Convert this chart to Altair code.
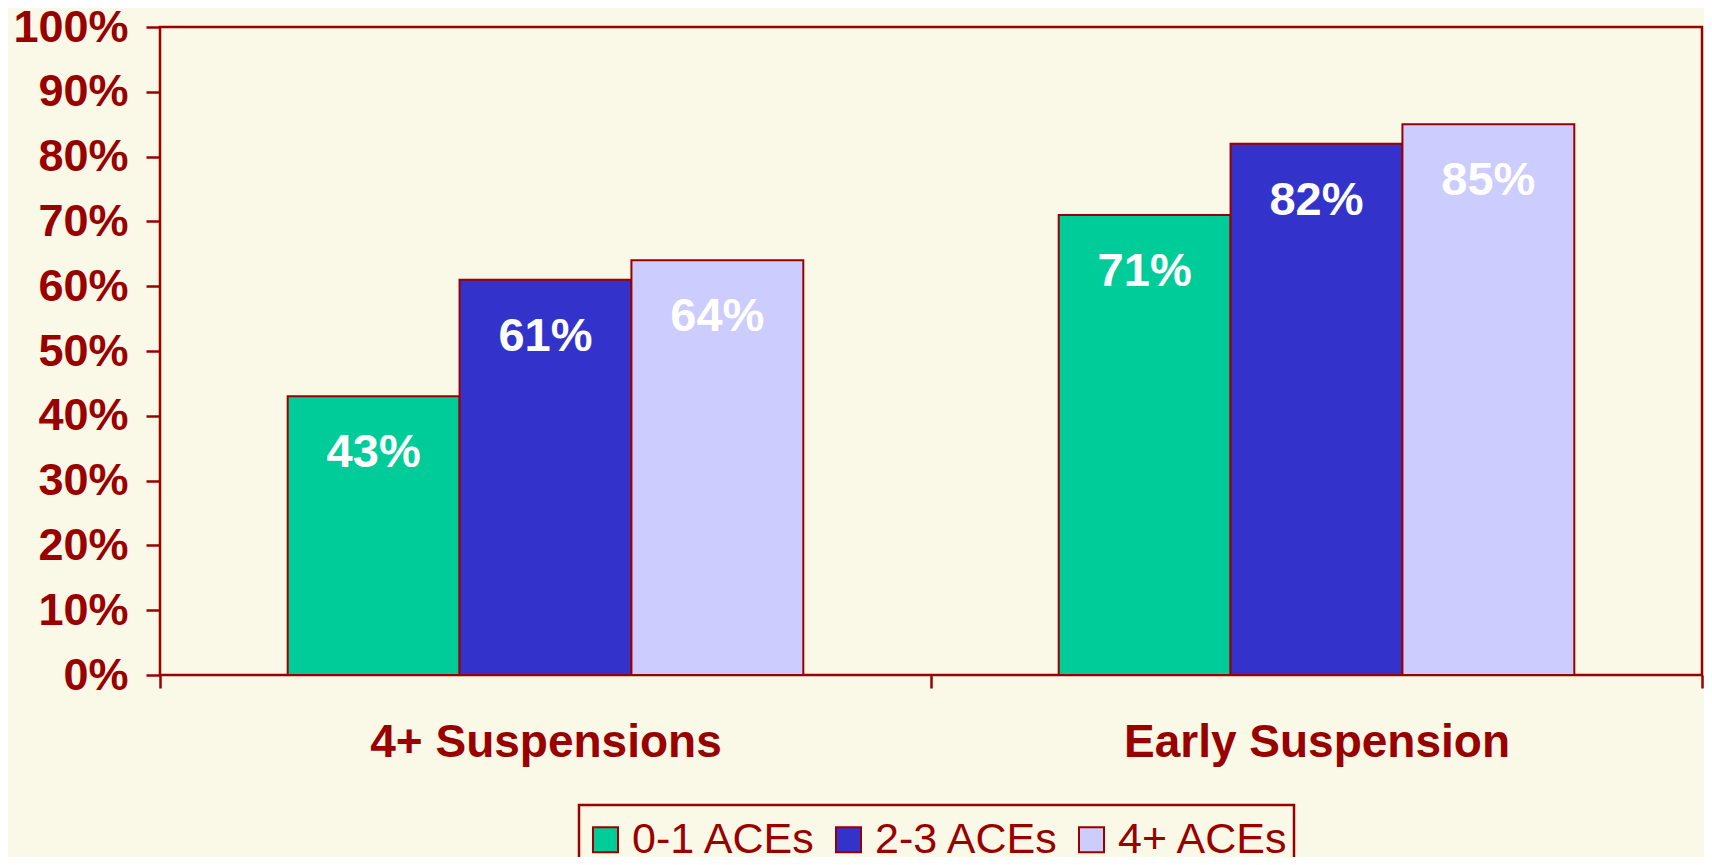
import altair as alt
import pandas as pd

categories = ["4+ Suspensions", "Early Suspension"]
series = ["0-1 ACEs", "2-3 ACEs", "4+ ACEs"]
values_4plus = [43, 61, 64]
values_early = [71, 82, 85]
colors = ["#00CC99", "#3333CC", "#CCCCFF"]
y_ticks = [0, 0.1, 0.2, 0.3, 0.4, 0.5, 0.6, 0.7, 0.8, 0.9, 1.0]

rows = []
for cat, vals in zip(categories, [values_4plus, values_early]):
    for s, v in zip(series, vals):
        rows.append({"category": cat, "series": s, "value": v / 100})
df = pd.DataFrame(rows)

DARK = "#990000"
BG = "#FAF8E6"
W, H = 1542, 648
FONT = "Liberation Sans"

x = alt.X(
    "category:N", sort=categories, title=None,
    scale=alt.Scale(paddingInner=0, paddingOuter=0),
    axis=alt.Axis(
        tickBand="extent", labelAngle=0, domain=False, ticks=True,
        tickSize=13, tickWidth=2.5, tickColor=DARK,
        labelFontSize=46, labelFont=FONT, labelFontWeight="bold",
        labelColor=DARK, labelPadding=32, labelLimit=0,
    ),
)
y = alt.Y(
    "value:Q", title=None,
    scale=alt.Scale(domain=[0, 1], nice=False),
    axis=alt.Axis(
        format=".0%", values=y_ticks, tickSize=14, tickWidth=2.5, tickColor=DARK,
        labelPadding=18, domain=False, grid=False,
        labelFontSize=45, labelFont=FONT, labelFontWeight="bold", labelColor=DARK,
    ),
)
xo = alt.XOffset("series:N", sort=series,
                 scale=alt.Scale(paddingInner=0, paddingOuter=0.743))
color = alt.Color(
    "series:N", sort=series,
    scale=alt.Scale(domain=series, range=colors),
    legend=alt.Legend(
        title=" ", titleFontSize=1, titlePadding=7,
        orient="none", legendX=419, legendY=778, direction="horizontal",
        symbolType="square", symbolSize=625,
        symbolStrokeColor=DARK, symbolStrokeWidth=2,
        labelFont=FONT, labelFontSize=43, labelColor=DARK, labelLimit=0,
        labelOffset=5, columnPadding=10, padding=5,
        strokeColor=DARK, fillColor=BG,
    ),
)

base = alt.Chart(df)
bars = base.mark_bar(stroke=DARK, strokeWidth=2).encode(x=x, xOffset=xo, y=y, color=color)
labels = base.mark_text(
    color="white", font=FONT, fontWeight="bold", fontSize=47,
    baseline="middle", dy=57,
).encode(x=x, xOffset=xo, y=y, text=alt.Text("value:Q", format=".0%"))

chart = alt.layer(bars, labels).properties(
    width=W, height=H,
    padding={"left": 152, "top": 19, "right": 2, "bottom": 182},
    autosize=alt.AutoSizeParams(type="none"),
    background=BG,
).configure_view(stroke=DARK, strokeWidth=2.5).configure_legend(strokeWidth=2.5)

chart.save("out.html", embed_options={"renderer": "svg", "actions": False})
